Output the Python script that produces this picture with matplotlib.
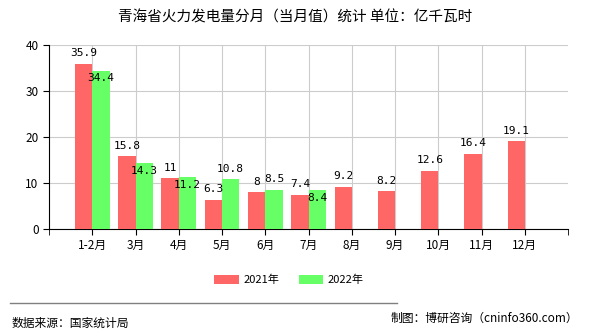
#!/usr/bin/env python3

# 青海省火力发电量分月（当月值）统计

import numpy as np
import matplotlib.pyplot as plt

plt.rcParams['font.family'] = ['Noto Sans CJK SC', 'DejaVu Sans']

# data

months = ["1-2月", "3月", "4月", "5月", "6月", "7月", "8月", "9月", "10月", "11月", "12月"]
values_2021 = [35.9, 15.8, 11, 6.3, 8, 7.4, 9.2, 8.2, 12.6, 16.4, 19.1]
values_2022 = [34.4, 14.3, 11.2, 10.8, 8.5, 8.4]

# where the 2022 labels sit: True = above the bar top, False = just inside it
above_2022 = [False, False, False, True, True, False]

red = "#FF6666"
green = "#66FF66"

fig = plt.figure(figsize=(5.9, 3.3), dpi=100)
ax = fig.add_axes([0.083, 0.306, 0.880, 0.558])

x = np.arange(1, len(months) + 1)
w = 0.4

bars1 = ax.bar(x[:len(values_2021)] - w / 2, values_2021, w, color=red, label="2021年", zorder=3)
bars2 = ax.bar(x[:len(values_2022)] + w / 2, values_2022, w, color=green, label="2022年", zorder=3)

for b, v in zip(bars1, values_2021):
    ax.annotate(f"{v:g}", (b.get_x() + b.get_width() / 2, v), xytext=(0, 4),
                textcoords="offset points", ha="center", va="bottom",
                fontsize=8, family="DejaVu Sans Mono", zorder=4)
for b, v, up in zip(bars2, values_2022, above_2022):
    if up:
        off, va = (0, 4), "bottom"
    else:
        off, va = (0, -2), "top"
    ax.annotate(f"{v:g}", (b.get_x() + b.get_width() / 2, v), xytext=off,
                textcoords="offset points", ha="center", va=va,
                fontsize=8, family="DejaVu Sans Mono", zorder=4)

ax.set_xlim(0, 12)
ax.set_ylim(0, 40)
ax.set_yticks([0, 10, 20, 30, 40])
ax.set_xticks(x)
ax.set_xticklabels(months)
ax.set_xticks([0, 12], minor=True)
ax.tick_params(axis="both", labelsize=8.5, length=4, color="black")
ax.tick_params(axis="x", which="minor", length=4)
ax.grid(True, color="#CCCCCC", linewidth=0.8, zorder=0)
for s in ["top", "right"]:
    ax.spines[s].set_visible(False)

fig.text(0.5, 0.948, "青海省火力发电量分月（当月值）统计 单位：亿千瓦时", ha="center", va="center", fontsize=10.5)

fig.legend(loc="center", bbox_to_anchor=(0.49, 0.152), ncol=2, frameon=False, fontsize=8,
           handlelength=2.2, handleheight=0.9, columnspacing=1.8, handletextpad=0.4)

fig.add_artist(plt.Line2D([0.017, 0.673], [0.082, 0.082], color="gray", linewidth=1))
fig.text(0.02, 0.021, "数据来源：国家统计局", ha="left", va="center", fontsize=8.5)
fig.text(0.98, 0.036, "制图：博研咨询（cninfo360.com）", ha="right", va="center", fontsize=8.5)

plt.savefig("out.png", dpi=100)
